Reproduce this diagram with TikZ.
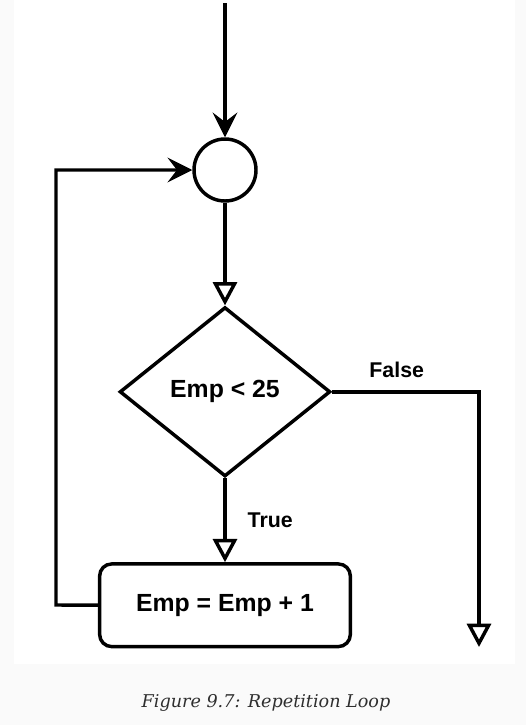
\documentclass[tikz,border=0pt]{standalone}
\usepackage{fontspec}
\setmainfont{Liberation Sans}
\newfontfamily\captionfont{DejaVu Serif}
\usetikzlibrary{arrows.meta, positioning, shapes.geometric}
\definecolor{pagegray}{HTML}{FAFAFA}
\definecolor{captiongray}{HTML}{2E2E2E}
\tikzset{%
	junction/.style={draw, circle, minimum size=46.5pt, inner sep=0mm, line width=2.6pt},
	decision/.style={draw, diamond, minimum width=158pt, minimum height=127pt, inner sep=0mm,%
		line width=2.6pt, font=\fontsize{18.6}{22}\selectfont\bfseries},
	process/.style={draw, rectangle, rounded corners=9pt, minimum width=188pt, minimum height=62pt,%
		line width=2.6pt, font=\fontsize{18.6}{22}\selectfont\bfseries},
	flow/.style={line width=2.6pt, -{Stealth[length=18.5pt, width=18.5pt, inset=7pt]}},
	openflow/.style={line width=2.6pt, -{Triangle[open, length=17.5pt, width=18pt]}},
	edgelabel/.style={inner sep=0pt, font=\fontsize{16}{19}\selectfont\bfseries},
	captiontext/.style={inner sep=0pt, text=captiongray, font=\captionfont\itshape\fontsize{13.2}{15}\selectfont}
}
\begin{document}
\begin{tikzpicture}[x=0.75pt, y=-0.75pt]
	\useasboundingbox (0,0) rectangle (526,725);
	\fill[pagegray] (0,0) rectangle (526,725);
	\fill[white] (14,0) rectangle (515,664);

	\node[junction]                    (merge) at (225,170) {};
	\node[decision, below=77pt of merge] (test)  {Emp < 25};
	\node[process, below=63pt of test]   (incr)  {Emp = Emp + 1};
	\coordinate (entry) at (225,3);
	\coordinate (back)  at (56,605);
	\coordinate (exit)  at (479,647);

	\draw[flow]     (entry) -- (merge);
	\draw[openflow] (merge) -- (test);
	\draw[openflow] (test)  -- node[edgelabel, right=15.75pt]{True} (incr);
	\draw[flow]     (incr)  -- (back) |- (merge);
	\draw[openflow] (test)  -| node[edgelabel, pos=0.22, above=9pt]{False} (exit);

	\node[captiontext] (caption) at (266,703) {Figure 9.7: Repetition Loop};
\end{tikzpicture}
\end{document}
